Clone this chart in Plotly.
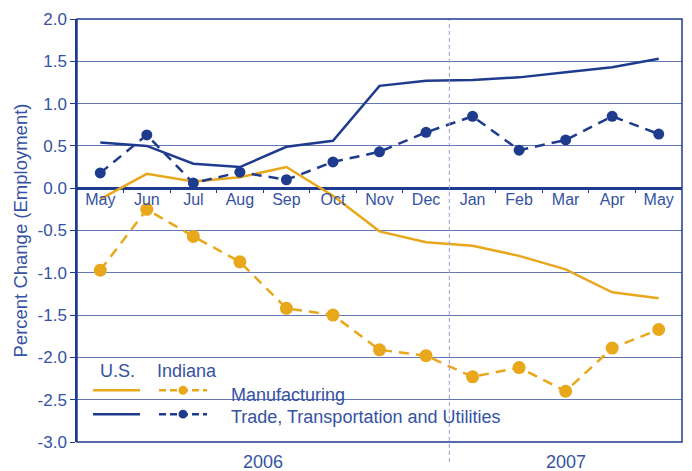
import plotly.graph_objects as go

months = ["May", "Jun", "Jul", "Aug", "Sep", "Oct", "Nov", "Dec", "Jan", "Feb", "Mar", "Apr", "May"]
x_idx = list(range(len(months)))
years = ["2006", "2007"]
year_pos = [3.5, 10]

us_trade = [0.54, 0.50, 0.29, 0.25, 0.49, 0.56, 1.21, 1.27, 1.28, 1.31, 1.37, 1.43, 1.53]
in_trade = [0.18, 0.63, 0.06, 0.19, 0.10, 0.31, 0.43, 0.66, 0.85, 0.45, 0.57, 0.85, 0.64]
us_mfg = [-0.13, 0.17, 0.08, 0.13, 0.25, -0.09, -0.51, -0.64, -0.68, -0.80, -0.96, -1.23, -1.30]
in_mfg = [-0.97, -0.25, -0.57, -0.87, -1.42, -1.50, -1.91, -1.98, -2.23, -2.12, -2.40, -1.89, -1.67]

y_ticks = [2.0, 1.5, 1.0, 0.5, 0.0, -0.5, -1.0, -1.5, -2.0, -2.5, -3.0]
y_text = ["%.1f" % v for v in y_ticks]

ORANGE = "#E9A71B"
NAVY = "#1F3B8E"
TEXT = "#3552A3"
GRID = "#6478B6"
FONT = "Liberation Sans"

fig = go.Figure()
fig.add_trace(go.Scatter(x=x_idx, y=us_mfg, mode="lines", line=dict(color=ORANGE, width=2.5), showlegend=False))
fig.add_trace(go.Scatter(x=x_idx, y=in_mfg, mode="lines+markers", line=dict(color=ORANGE, width=2.5, dash="10px,7px"),
                         marker=dict(size=13, color=ORANGE), showlegend=False))
fig.add_trace(go.Scatter(x=x_idx, y=us_trade, mode="lines", line=dict(color=NAVY, width=2.5), showlegend=False))
fig.add_trace(go.Scatter(x=x_idx, y=in_trade, mode="lines+markers", line=dict(color=NAVY, width=2.5, dash="10px,7px"),
                         marker=dict(size=11, color=NAVY), showlegend=False))

def px_x(p):
    return (p - 77) / 605.0

def px_y(p):
    return (442 - p) / 425.0

shapes = []
# white box behind legend covering gridlines
shapes.append(dict(type="rect", xref="paper", yref="y", x0=0, x1=px_x(522), y0=-3, y1=-1.8,
                   fillcolor="white", line=dict(width=0), layer="between"))
# divider between years
shapes.append(dict(type="line", xref="x", yref="paper", x0=7.5, x1=7.5, y0=px_y(462), y1=1,
                   line=dict(color="#9A9ACB", width=1, dash="4px,3px"), layer="above"))
# frame
shapes.append(dict(type="rect", xref="paper", yref="paper", x0=0, x1=1, y0=0, y1=1,
                   line=dict(color=NAVY, width=1.5), layer="above"))
# legend samples
shapes.append(dict(type="line", xref="paper", yref="paper", x0=px_x(93), x1=px_x(140), y0=px_y(390), y1=px_y(390),
                   line=dict(color=ORANGE, width=2.5)))
shapes.append(dict(type="line", xref="paper", yref="paper", x0=px_x(93), x1=px_x(140), y0=px_y(414), y1=px_y(414),
                   line=dict(color=NAVY, width=2.5)))
shapes.append(dict(type="line", xref="paper", yref="paper", x0=px_x(159), x1=px_x(207), y0=px_y(390), y1=px_y(390),
                   line=dict(color=ORANGE, width=2.5, dash="7px,4px")))
shapes.append(dict(type="line", xref="paper", yref="paper", x0=px_x(159), x1=px_x(207), y0=px_y(414), y1=px_y(414),
                   line=dict(color=NAVY, width=2.5, dash="7px,4px")))
for cy, col in [(390, ORANGE), (414, NAVY)]:
    shapes.append(dict(type="circle", xref="paper", yref="paper",
                       x0=px_x(183 - 4.5), x1=px_x(183 + 4.5), y0=px_y(cy + 4.5), y1=px_y(cy - 4.5),
                       fillcolor=col, line=dict(color=col, width=0)))

annotations = []
for t, xp in zip(years, year_pos):
    annotations.append(dict(text=t, x=xp, xref="x", y=px_y(462), yref="paper", showarrow=False,
                            font=dict(family=FONT, size=18, color=TEXT), xanchor="center", yanchor="middle"))
annotations.append(dict(text="Percent Change (Employment)", x=px_x(20), xref="paper", y=0.5, yref="paper",
                        textangle=-90, showarrow=False, font=dict(family=FONT, size=18.5, color=TEXT),
                        xanchor="center", yanchor="middle"))
annotations.append(dict(text="U.S.", x=px_x(117), y=px_y(371), xref="paper", yref="paper", showarrow=False,
                        font=dict(family=FONT, size=18, color=TEXT), xanchor="center", yanchor="middle"))
annotations.append(dict(text="Indiana", x=px_x(187), y=px_y(371), xref="paper", yref="paper", showarrow=False,
                        font=dict(family=FONT, size=18, color=TEXT), xanchor="center", yanchor="middle"))
annotations.append(dict(text="Manufacturing", x=px_x(229), y=px_y(395), xref="paper", yref="paper", showarrow=False,
                        font=dict(family=FONT, size=18, color=TEXT), xanchor="left", yanchor="middle"))
annotations.append(dict(text="Trade, Transportation and Utilities", x=px_x(229), y=px_y(417), xref="paper",
                        yref="paper", showarrow=False, font=dict(family=FONT, size=18, color=TEXT),
                        xanchor="left", yanchor="middle"))

fig.update_layout(
    width=692, height=471,
    margin=dict(l=77, r=10, t=17, b=29),
    paper_bgcolor="white", plot_bgcolor="white",
    shapes=shapes, annotations=annotations,
    font=dict(family=FONT, size=16, color=TEXT),
    xaxis=dict(range=[-0.5, 12.5], tickvals=x_idx, ticktext=months, anchor="free", position=0.6,
               showgrid=False, zeroline=False, showline=False, ticks="",
               tickfont=dict(family=FONT, size=16, color=TEXT),
               minor=dict(tickvals=[0.5, 1.5, 2.5, 3.5, 4.5, 5.5, 6.5, 8.5, 9.5, 10.5, 11.5],
                          ticks="outside", ticklen=4, tickcolor=NAVY, tickwidth=1, showgrid=False)),
    yaxis=dict(range=[-3, 2], tickvals=y_ticks, ticktext=y_text, showgrid=True, gridcolor=GRID, gridwidth=1,
               zeroline=True, zerolinecolor=NAVY, zerolinewidth=3, ticks="outside", ticklen=5, tickcolor=NAVY,
               showline=True, linecolor=NAVY, linewidth=1.5,
               tickfont=dict(family=FONT, size=17, color=TEXT)),
)

fig.write_html("out.html")
